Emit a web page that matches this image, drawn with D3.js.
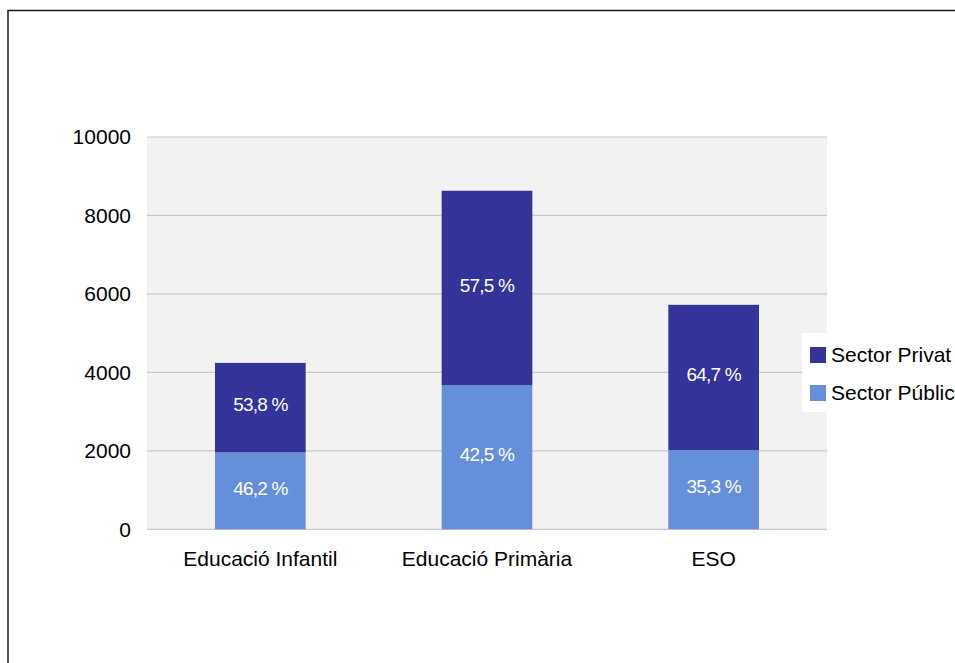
<!DOCTYPE html>
<html>
<head>
<meta charset="utf-8">
<script src="https://cdn.jsdelivr.net/npm/d3@7"></script>
<style>
  html, body { margin: 0; padding: 0; background: #fff; }
  svg { display: block; font-family: "Liberation Sans", Arial, sans-serif; }
</style>
</head>
<body>
<svg id="chart" width="955" height="663"></svg>
<script>
const categories = ["Educació Infantil", "Educació Primària", "ESO"];
const seriesNames = ["Sector Privat", "Sector Públic"];
const publicValues = [1960, 3670, 2020];
const privateValues = [2282, 4960, 3702];
const publicLabels = ["46,2 %", "42,5 %", "35,3 %"];
const privateLabels = ["53,8 %", "57,5 %", "64,7 %"];
const yTicks = [0, 2000, 4000, 6000, 8000, 10000];

const colors = { "Sector Privat": "#333399", "Sector Públic": "#668fd9" };

const svg = d3.select("#chart");

// outer frame
svg.append("rect")
  .attr("x", 8).attr("y", 10.5)
  .attr("width", 1200).attr("height", 1200)
  .attr("fill", "#fff").attr("stroke", "#1a1a1a").attr("stroke-width", 1.5);

const plot = { left: 147, right: 827, top: 137, bottom: 529.3 };

const x = d3.scaleBand()
  .domain(categories)
  .range([plot.left, plot.right])
  .paddingInner(0.6)
  .paddingOuter(0.3);

const y = d3.scaleLinear()
  .domain([0, 10000])
  .range([plot.bottom, plot.top]);

// plot background
svg.append("rect")
  .attr("x", plot.left).attr("y", plot.top)
  .attr("width", plot.right - plot.left).attr("height", plot.bottom - plot.top)
  .attr("fill", "#f2f2f2");

// gridlines
svg.append("g")
  .selectAll("line")
  .data(yTicks)
  .join("line")
  .attr("x1", plot.left).attr("x2", plot.right)
  .attr("y1", d => y(d)).attr("y2", d => y(d))
  .attr("stroke", "#c8c8c8").attr("stroke-width", 1.2);

// y axis labels
const yAxis = d3.axisLeft(y).tickValues(yTicks).tickSize(0).tickPadding(16).tickFormat(d3.format("d"));
const yg = svg.append("g").attr("transform", `translate(${plot.left},0)`).call(yAxis);
yg.select(".domain").remove();
yg.selectAll("text").attr("font-size", 21).attr("fill", "#000")
  .attr("font-family", "Liberation Sans, Arial, sans-serif");

// x axis labels
const xAxis = d3.axisBottom(x).tickSize(0).tickPadding(22);
const xg = svg.append("g").attr("transform", `translate(0,${plot.bottom})`).call(xAxis);
xg.select(".domain").remove();
xg.selectAll("text").attr("font-size", 21).attr("fill", "#000")
  .attr("font-family", "Liberation Sans, Arial, sans-serif");

// stacked data
const rows = categories.map((c, i) => ({
  cat: c,
  "Sector Públic": publicValues[i],
  "Sector Privat": privateValues[i],
  pubLabel: publicLabels[i],
  privLabel: privateLabels[i]
}));
const stack = d3.stack().keys(["Sector Públic", "Sector Privat"]);
const stacked = stack(rows);

const layers = svg.append("g").selectAll("g")
  .data(stacked)
  .join("g")
  .attr("fill", d => colors[d.key]);

layers.selectAll("rect")
  .data(d => d)
  .join("rect")
  .attr("x", d => x(d.data.cat))
  .attr("width", x.bandwidth())
  .attr("y", d => y(d[1]))
  .attr("height", d => y(d[0]) - y(d[1]));

// percentage labels
stacked.forEach(layer => {
  svg.append("g").selectAll("text")
    .data(layer)
    .join("text")
    .attr("x", d => x(d.data.cat) + x.bandwidth() / 2)
    .attr("y", d => (y(d[0]) + y(d[1])) / 2 - 3)
    .attr("dy", "0.35em")
    .attr("text-anchor", "middle")
    .attr("fill", "#fff")
    .attr("font-size", 19)
    .attr("letter-spacing", "-0.8")
    .text(d => layer.key === "Sector Públic" ? d.data.pubLabel : d.data.privLabel);
});

// legend
const legend = svg.append("g");
legend.append("rect")
  .attr("x", 802).attr("y", 333).attr("width", 200).attr("height", 79)
  .attr("fill", "#fff");
const li = legend.selectAll("g.item")
  .data(seriesNames)
  .join("g")
  .attr("class", "item")
  .attr("transform", (d, i) => `translate(810,${347 + i * 38})`);
li.append("rect").attr("width", 16).attr("height", 16).attr("fill", d => colors[d]);
li.append("text")
  .attr("x", 21).attr("y", 8).attr("dy", "0.35em")
  .attr("font-size", 21).attr("fill", "#000")
  .text(d => d);
</script>
</body>
</html>
